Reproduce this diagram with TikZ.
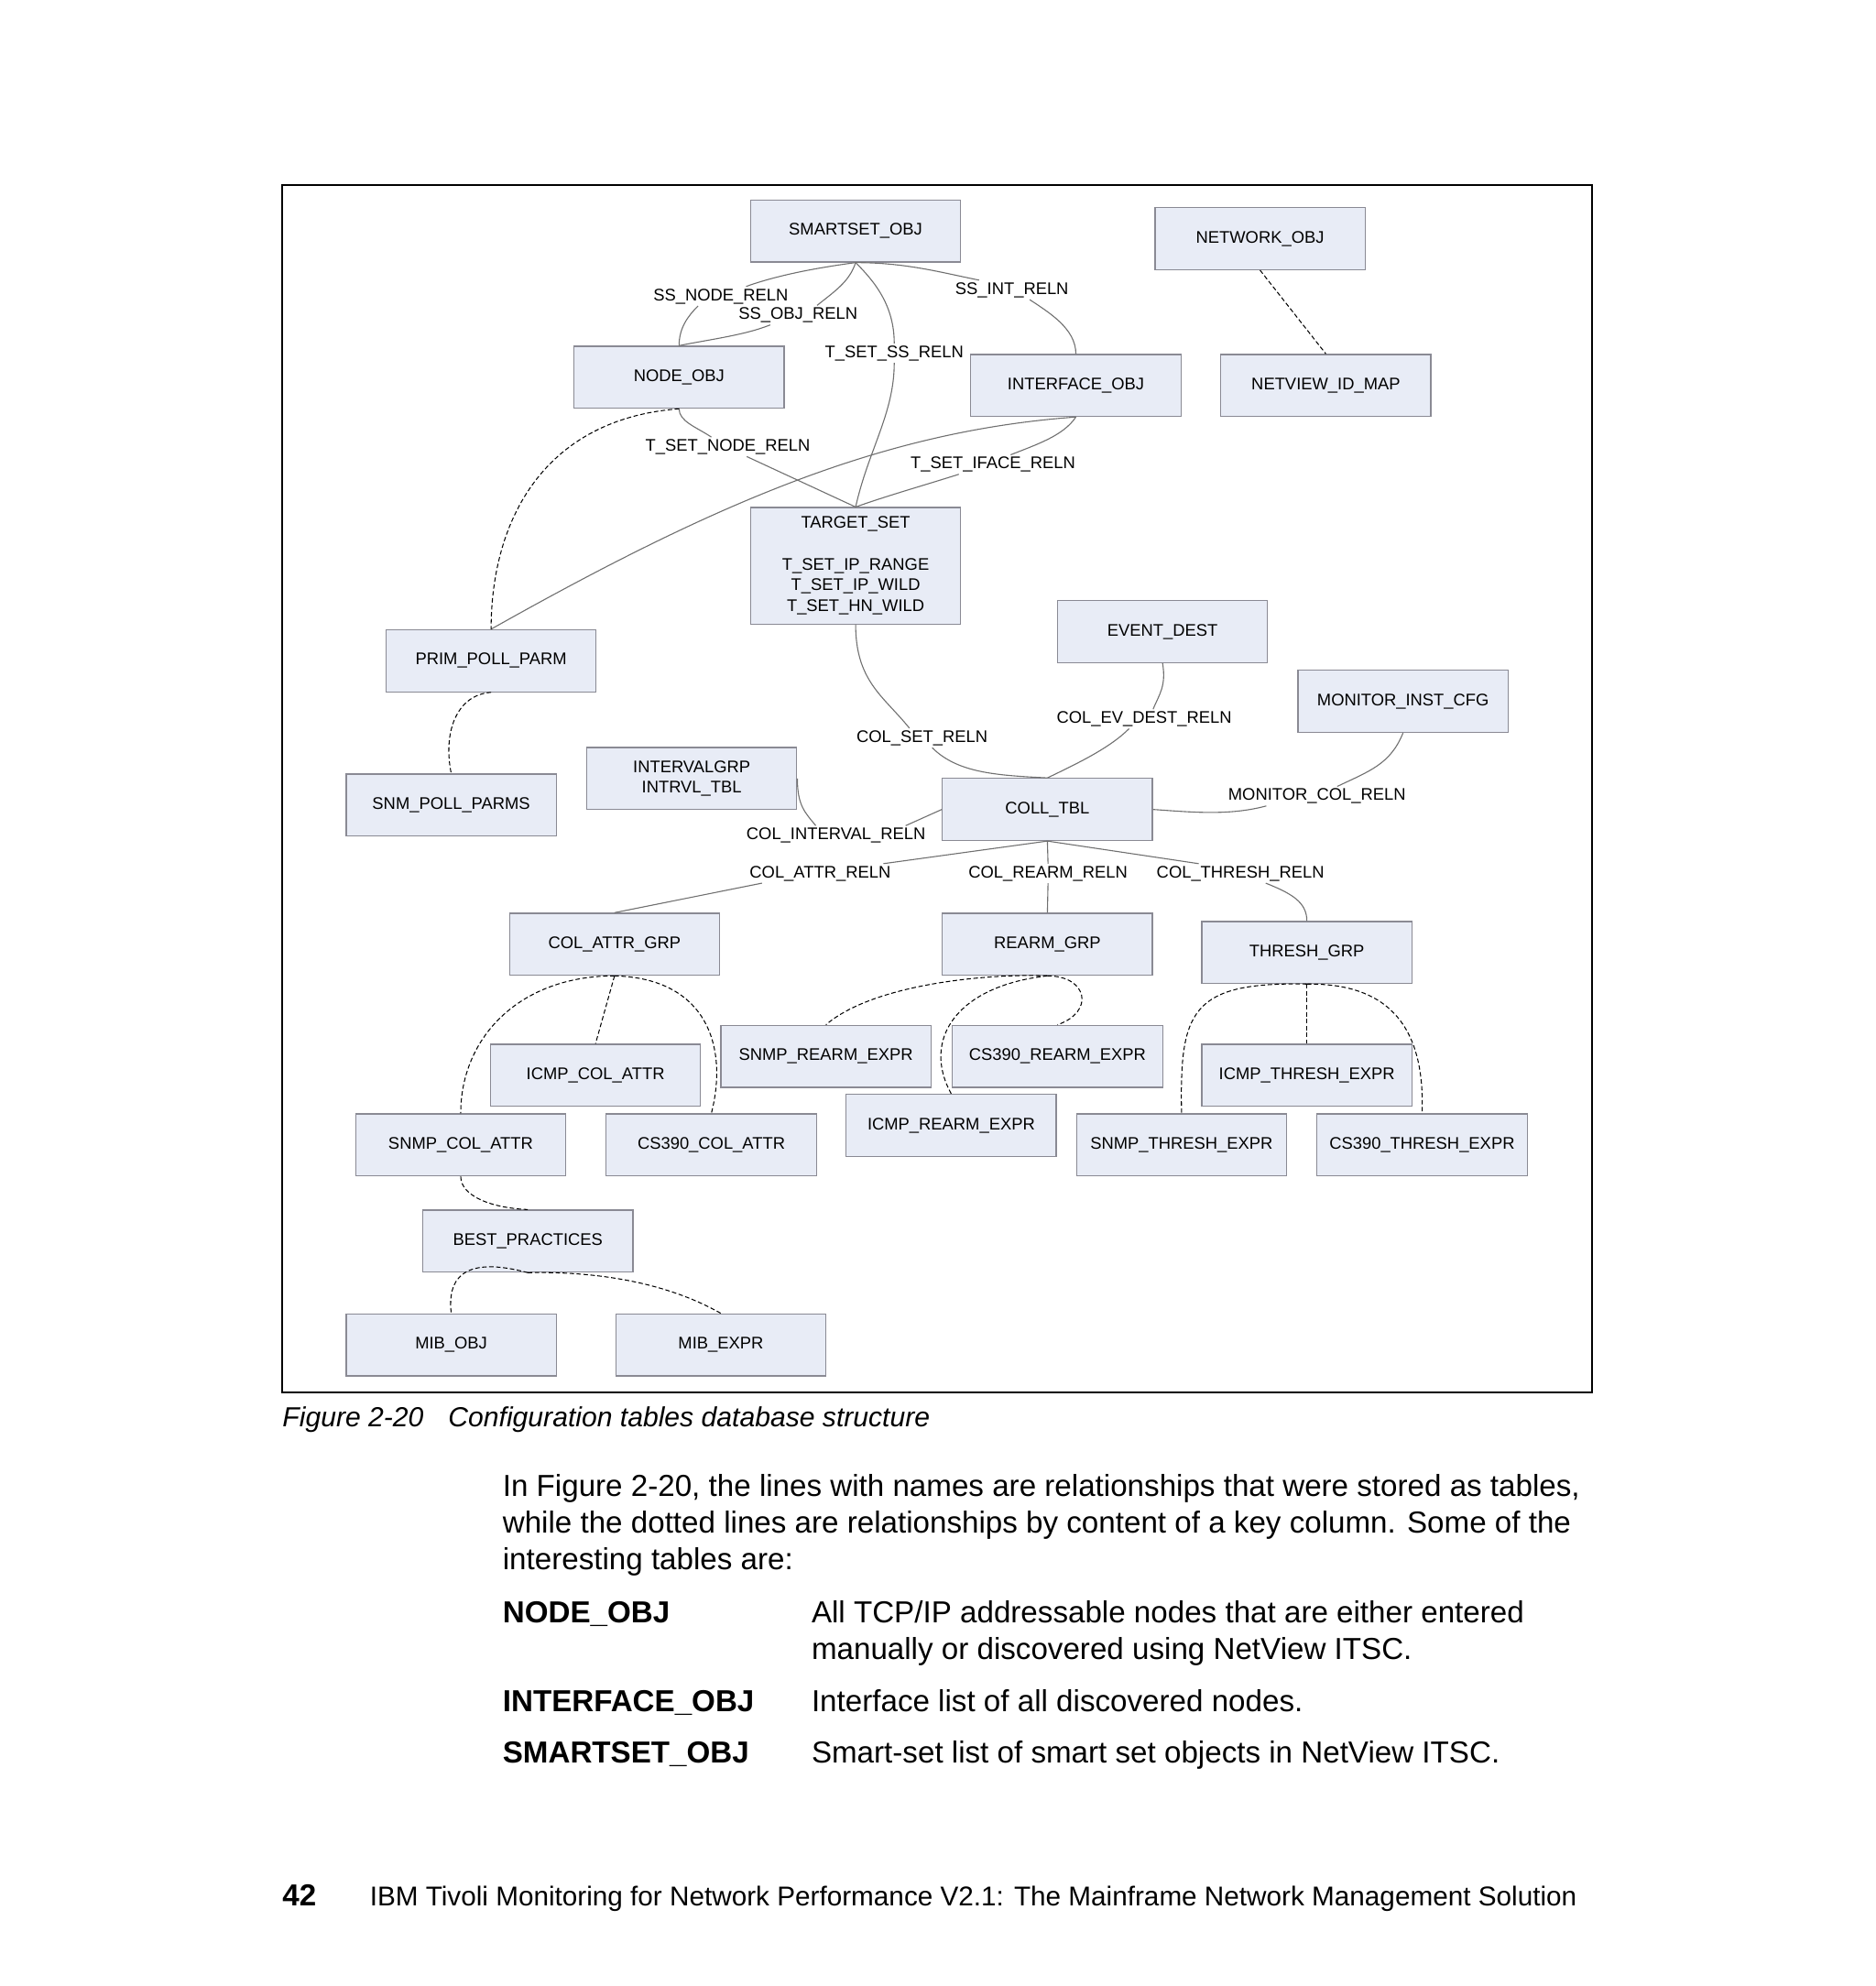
\documentclass[tikz,border=0pt]{standalone}
\usepackage{fontspec}
\setmainfont{Liberation Sans}
\usetikzlibrary{positioning}
\definecolor{ibm_boxfill}{HTML}{E8ECF6}
\definecolor{ibm_boxline}{HTML}{8A8A94}
\definecolor{ibm_reln}{HTML}{707070}
\colorlet{boxfill}{ibm_boxfill}
\colorlet{boxline}{ibm_boxline}
\tikzset{
  dbtable/.style={rectangle,draw=boxline,fill=boxfill,line width=0.9pt,minimum width=166pt,minimum height=49pt,inner sep=0pt,align=center,font=\fontsize{13.3}{16.4}\selectfont},
  dbtable_tall/.style={dbtable,minimum height=92pt},
  relname/.style={inner sep=1.5pt,text height=9.5pt,text depth=2.5pt,font=\fontsize{13.3}{16}\selectfont},
  relation/.style={draw=ibm_reln,line width=0.8pt},
  keylink/.style={draw=black,line width=0.75pt,dash pattern=on 3.5pt off 2pt},
  frame/.style={draw=black,line width=1.3pt},
  caption/.style={inner sep=0pt,anchor=base west,font=\fontsize{21.8}{26}\selectfont\itshape},
  bodytext/.style={inner sep=0pt,anchor=base west,font=\fontsize{24}{29}\selectfont},
  defterm/.style={bodytext,font=\fontsize{24}{29}\selectfont\bfseries},
  footertext/.style={bodytext,font=\fontsize{21.5}{26}\selectfont},
}

\begin{document}
\begin{tikzpicture}[x=1pt,y=-1pt]
    \useasboundingbox (0,0) rectangle (1482,1569);
    \draw[frame] (223,146) rectangle (1258,1100);

    % tables
    \node[dbtable] (SSO) at (676,182.5) {SMARTSET\_OBJ};
    \node[dbtable] (NET) at (995.5,188.5) {NETWORK\_OBJ};
    \node[dbtable] (NODE) at (536.5,298) {NODE\_OBJ};
    \node[dbtable] (IFACE) at (850,304.5) {INTERFACE\_OBJ};
    \node[dbtable] (NVID) at (1047.5,304.5) {NETVIEW\_ID\_MAP};
    \node[dbtable_tall] (TSET) at (676,447) {TARGET\_SET\\[16.4pt]T\_SET\_IP\_RANGE\\T\_SET\_IP\_WILD\\T\_SET\_HN\_WILD};
    \node[dbtable] (EVD) at (918.5,499) {EVENT\_DEST};
    \node[dbtable] (PPP) at (388,522) {PRIM\_POLL\_PARM};
    \node[dbtable] (MIC) at (1108.5,554) {MONITOR\_INST\_CFG};
    \node[dbtable] (IGRP) at (546.5,615) {INTERVALGRP\\INTRVL\_TBL};
    \node[dbtable] (SNMPP) at (356.5,636) {SNM\_POLL\_PARMS};
    \node[dbtable] (COLL) at (827.5,639.5) {COLL\_TBL};
    \node[dbtable] (CAG) at (485.5,746) {COL\_ATTR\_GRP};
    \node[dbtable] (RAG) at (827.5,746) {REARM\_GRP};
    \node[dbtable] (THG) at (1032.5,752.5) {THRESH\_GRP};
    \node[dbtable] (SRE) at (652.5,834.5) {SNMP\_REARM\_EXPR};
    \node[dbtable] (CRE) at (835.5,834.5) {CS390\_REARM\_EXPR};
    \node[dbtable] (ICA) at (470.5,849.5) {ICMP\_COL\_ATTR};
    \node[dbtable] (ITE) at (1032.5,849.5) {ICMP\_THRESH\_EXPR};
    \node[dbtable] (IRE) at (751.5,889) {ICMP\_REARM\_EXPR};
    \node[dbtable] (SCA) at (364,904.5) {SNMP\_COL\_ATTR};
    \node[dbtable] (CCA) at (562,904.5) {CS390\_COL\_ATTR};
    \node[dbtable] (STE) at (933.5,904.5) {SNMP\_THRESH\_EXPR};
    \node[dbtable] (CTE) at (1123.5,904.5) {CS390\_THRESH\_EXPR};
    \node[dbtable] (BP) at (417,980.5) {BEST\_PRACTICES};
    \node[dbtable] (MIBO) at (356.5,1062.5) {MIB\_OBJ};
    \node[dbtable] (MIBE) at (569.5,1062.5) {MIB\_EXPR};

    % relation names
    \node[relname] (l_ssnode) at (569.5,234) {SS\_NODE\_RELN};
    \node[relname] (l_ssobj) at (630.5,249) {SS\_OBJ\_RELN};
    \node[relname] (l_ssint) at (799.5,229) {SS\_INT\_RELN};
    \node[relname] (l_tsetss) at (706.5,279) {T\_SET\_SS\_RELN};
    \node[relname] (l_tsetnode) at (575,353) {T\_SET\_NODE\_RELN};
    \node[relname] (l_tsetiface) at (784.5,367) {T\_SET\_IFACE\_RELN};
    \node[relname] (l_colset) at (728.5,583) {COL\_SET\_RELN};
    \node[relname] (l_colev) at (904,568) {COL\_EV\_DEST\_RELN};
    \node[relname] (l_moncol) at (1040.5,629) {MONITOR\_COL\_RELN};
    \node[relname] (l_colint) at (660.5,660) {COL\_INTERVAL\_RELN};
    \node[relname] (l_colattr) at (648,690) {COL\_ATTR\_RELN};
    \node[relname] (l_colrearm) at (828,690) {COL\_REARM\_RELN};
    \node[relname] (l_colthresh) at (980,690) {COL\_THRESH\_RELN};

    % relationships stored as tables
    \draw[relation] (SSO.south) .. controls +(-30,4) and +(25,-9) .. ([xshift=20pt]l_ssnode.north);
    \draw[relation] ([xshift=-18pt]l_ssnode.south) .. controls +(-8,8) and +(0,-14) .. (NODE.north);
    \draw[relation] (SSO.south) .. controls +(-5,15) and +(15,-12) .. ([xshift=15pt]l_ssobj.north);
    \draw[relation] ([xshift=-22pt]l_ssobj.south) .. controls +(-20,8) and +(25,-5) .. (NODE.north);
    \draw[relation] (SSO.south) .. controls +(40,0) and +(-30,-6) .. ([xshift=-26pt]l_ssint.north);
    \draw[relation] ([xshift=14pt]l_ssint.south) .. controls +(15,10) and +(0,-20) .. (IFACE.north);
    \draw[relation] (SSO.south) .. controls +(15,15) and +(0,-30) .. (l_tsetss.north);
    \draw[relation] (l_tsetss.south) .. controls +(0,40) and +(10,-45) .. (TSET.north);
    \draw[relation] (NODE.south) .. controls +(0,10) and +(-12,-8) .. ([xshift=-13pt]l_tsetnode.north);
    \draw[relation] ([xshift=15pt]l_tsetnode.south) -- (TSET.north);
    \draw[relation] (IFACE.south) .. controls +(-10,15) and +(20,-8) .. ([xshift=14pt]l_tsetiface.north);
    \draw[relation] ([xshift=-27pt]l_tsetiface.south) .. controls +(-25,8) and +(25,-9) .. (TSET.north);
    \draw[relation] (IFACE.south) .. controls +(-150,11) and +(182,-102.5) .. (PPP.north);
    \draw[relation] (TSET.south) .. controls +(0,45) and +(-20,-25) .. ([xshift=-10pt]l_colset.north);
    \draw[relation] ([xshift=8pt]l_colset.south) .. controls +(20,20) and +(-40,-2) .. (COLL.north);
    \draw[relation] (EVD.south) .. controls +(3,18) and +(5,-12) .. ([xshift=7pt]l_colev.north);
    \draw[relation] ([xshift=-12pt]l_colev.south) .. controls +(-15,15) and +(25,-12) .. (COLL.north);
    \draw[relation] (MIC.south) .. controls +(-10,25) and +(25,-12) .. ([xshift=16pt]l_moncol.north);
    \draw[relation] ([xshift=-40pt]l_moncol.south) .. controls +(-30,8) and +(30,2) .. (COLL.east);
    \draw[relation] (IGRP.east) .. controls +(0,22) and +(-8,-10) .. ([xshift=-16pt]l_colint.north);
    \draw[relation] ([xshift=55pt]l_colint.north) -- (COLL.west);
    \draw[relation] (COLL.south) -- ([xshift=50pt]l_colattr.north);
    \draw[relation] ([xshift=-46pt]l_colattr.south) -- (CAG.north);
    \draw[relation] (COLL.south) -- (l_colrearm.north);
    \draw[relation] (l_colrearm.south) -- (RAG.north);
    \draw[relation] (COLL.south) -- ([xshift=-33pt]l_colthresh.north);
    \draw[relation] ([xshift=20pt]l_colthresh.south) .. controls +(20,8) and +(0,-15) .. (THG.north);

    % relationships by key column
    \draw[keylink] (NET.south) -- (NVID.north);
    \draw[keylink] (NODE.south) .. controls +(-106,8) and +(0,-87) .. (PPP.north);
    \draw[keylink] (PPP.south) .. controls +(-28,2) and +(-6.5,-31.5) .. (SNMPP.north);
    \draw[keylink] (CAG.south) -- (ICA.north);
    \draw[keylink] (CAG.south) .. controls +(-75,0) and +(0,-60) .. (SCA.north);
    \draw[keylink] (CAG.south) .. controls +(75,2) and +(13,-50) .. (CCA.north);
    \draw[keylink] (RAG.south) .. controls +(-48,-2) and +(37.5,-32) .. (SRE.north);
    \draw[keylink] (RAG.south) .. controls +(32,0) and +(29.5,-10) .. (CRE.north);
    \draw[keylink] (RAG.south) .. controls +(-72,8) and +(-23.5,-42.5) .. (IRE.north);
    \draw[keylink] (THG.south) -- (ITE.north);
    \draw[keylink] (THG.south) .. controls +(-92.5,-2) and +(-1.5,-80) .. (STE.north);
    \draw[keylink] (THG.south) .. controls +(67.5,-1) and +(2.5,-65) .. (CTE.north);
    \draw[keylink] (SCA.south) .. controls +(0,16) and +(-27,-1) .. (BP.north);
    \draw[keylink] (BP.south) .. controls +(-37,-10) and +(-4.5,-38) .. (MIBO.north);
    \draw[keylink] (BP.south) .. controls +(43,-1) and +(-49.5,-28) .. (MIBE.north);

    % caption and page text
    \node[caption] (figno) at (223,1127) {Figure 2-20};
    \node[caption] (figtitle) at (354,1127) {Configuration tables database structure};
    \node[bodytext] (para1) at (397,1182) {In Figure 2-20, the lines with names are relationships that were stored as tables,};
    \node[bodytext] (para2) at (397,1211) {while the dotted lines are relationships by content of a key column. Some of the};
    \node[bodytext] (para3) at (397,1240) {interesting tables are:};
    \node[defterm] (t_node) at (397,1282) {NODE\_OBJ};
    \node[bodytext] (d_node1) at (641,1282) {All TCP/IP addressable nodes that are either entered};
    \node[bodytext] (d_node2) at (641,1311) {manually or discovered using NetView ITSC.};
    \node[defterm] (t_iface) at (397,1352) {INTERFACE\_OBJ};
    \node[bodytext] (d_iface) at (641,1352) {Interface list of all discovered nodes.};
    \node[defterm] (t_ss) at (397,1393) {SMARTSET\_OBJ};
    \node[bodytext] (d_ss) at (641,1393) {Smart-set list of smart set objects in NetView ITSC.};
    \node[defterm] (pageno) at (223,1506) {42};
    \node[footertext] (footer) at (292,1506) {IBM Tivoli Monitoring for Network Performance V2.1: The Mainframe Network Management Solution};
\end{tikzpicture}
\end{document}
